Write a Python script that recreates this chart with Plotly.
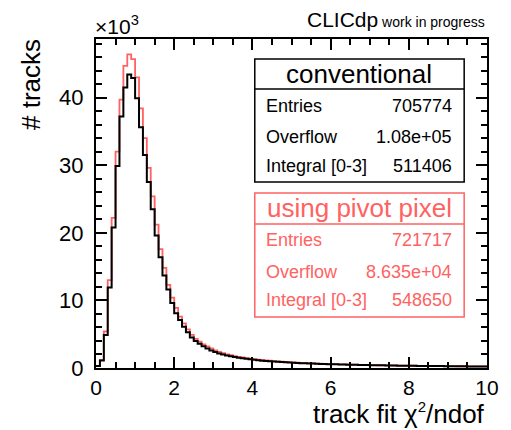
import numpy as np
import plotly.graph_objects as go

# bin edges: 100 bins of width 0.1 on [0, 10]
bin_edges = np.round(np.linspace(0, 10, 101), 2)

# counts per bin, in units of 10^3 tracks
conventional = [
    0.3, 1.1, 4.9, 11.9, 20.8, 29.9, 37.2, 41.5, 43.4, 42.9,
    39.9, 35.6, 31.5, 27.5, 23.5, 19.6, 16.4, 13.7, 11.6, 9.6,
    8.1, 7.1, 6.1, 5.3, 4.5, 4.0, 3.6, 3.2, 2.9, 2.6,
    2.35, 2.15, 2.0, 1.85, 1.72, 1.62, 1.52, 1.43, 1.35, 1.28,
    1.21, 1.15, 1.09, 1.04, 0.99, 0.95, 0.91, 0.88, 0.84, 0.81,
    0.78, 0.75, 0.72, 0.70, 0.67, 0.65, 0.63, 0.61, 0.59, 0.57,
    0.55, 0.54, 0.52, 0.51, 0.49, 0.48, 0.47, 0.45, 0.44, 0.43,
    0.42, 0.41, 0.40, 0.39, 0.38, 0.37, 0.36, 0.35, 0.34, 0.34,
    0.33, 0.32, 0.31, 0.31, 0.30, 0.29, 0.29, 0.28, 0.28, 0.27,
    0.27, 0.26, 0.26, 0.25, 0.25, 0.24, 0.24, 0.23, 0.23, 0.22,
]
pivot = [
    0.3, 1.2, 5.4, 13.0, 22.2, 32.0, 39.7, 44.7, 46.4, 45.7,
    43.0, 38.4, 34.0, 29.6, 25.4, 21.2, 17.6, 14.8, 12.3, 10.4,
    8.9, 7.6, 6.6, 5.7, 4.9, 4.3, 3.9, 3.5, 3.2, 2.9,
    2.6, 2.38, 2.2, 2.03, 1.89, 1.77, 1.66, 1.56, 1.47, 1.39,
    1.31, 1.24, 1.18, 1.12, 1.07, 1.02, 0.98, 0.94, 0.90, 0.86,
    0.83, 0.80, 0.77, 0.74, 0.71, 0.69, 0.66, 0.64, 0.62, 0.60,
    0.58, 0.56, 0.55, 0.53, 0.52, 0.50, 0.49, 0.47, 0.46, 0.45,
    0.44, 0.43, 0.41, 0.40, 0.39, 0.38, 0.37, 0.36, 0.35, 0.35,
    0.34, 0.33, 0.32, 0.32, 0.31, 0.30, 0.30, 0.29, 0.28, 0.28,
    0.27, 0.27, 0.26, 0.26, 0.25, 0.25, 0.24, 0.24, 0.23, 0.23,
]

stat_labels = ["Entries", "Overflow", "Integral [0-3]"]
conventional_stats = ["705774", "1.08e+05", "511406"]
pivot_stats = ["721717", "8.635e+04", "548650"]

BLACK = "#000000"
RED = "#ff6262"
FONT = "Liberation Sans, Arial, sans-serif"

def step_xy(vals):
    x = list(bin_edges)
    y = list(vals) + [vals[-1]]
    return x, y

fig = go.Figure()
for vals, col, w in [(pivot, RED, 1.8), (conventional, BLACK, 2.0)]:
    x, y = step_xy(vals)
    fig.add_trace(go.Scatter(x=x, y=y, mode="lines", line=dict(color=col, width=w, shape="hv"),
                             hoverinfo="skip", showlegend=False))

axis_common = dict(
    showline=True, linecolor="black", linewidth=2, mirror="allticks",
    ticks="inside", ticklen=11, tickwidth=1.5, tickcolor="black",
    showgrid=False, zeroline=False,
)
fig.update_xaxes(range=[0, 10], dtick=2, tick0=0,
                 minor=dict(dtick=0.5, ticks="inside", ticklen=6, tickwidth=1.5, tickcolor="black"),
                 ticklabelstandoff=0, tickfont=dict(family=FONT, size=21, color="black"),
                 **axis_common)
fig.update_yaxes(range=[0, 48.67], dtick=10, tick0=0,
                 minor=dict(dtick=2, ticks="inside", ticklen=6, tickwidth=1.5, tickcolor="black"),
                 ticklabelstandoff=6, tickfont=dict(family=FONT, size=22, color="black"),
                 **axis_common)

# page has an 8px body margin; compensate so the plot frame lands at x 96..490, y 39..368
OFF = 8
W, H = 511 - OFF, 430 - OFF
L, R, T, B = 96 - OFF, 21, 39 - OFF, 62
pw, ph = W - L - R, H - T - B
FX0, FY1 = 96, 368  # page pixel coords of frame left / bottom

def px(xp):
    return (xp - FX0) / pw

def py(yp):
    return (FY1 - yp) / ph

shapes = []
ann = []

def stat_box(top, bottom, div, header, labels, values, color, hdr_y, row_ys):
    shapes.append(dict(type="rect", xref="paper", yref="paper", x0=px(256), x1=px(467),
                       y0=py(bottom), y1=py(top), line=dict(color=color, width=1.5),
                       fillcolor="white", layer="above"))
    shapes.append(dict(type="line", xref="paper", yref="paper", x0=px(256), x1=px(467),
                       y0=py(div), y1=py(div), line=dict(color=color, width=1.5), layer="above"))
    ann.append(dict(text=header, xref="paper", yref="paper", x=px(361.5), y=py(hdr_y),
                    xanchor="center", yanchor="middle", showarrow=False,
                    font=dict(family=FONT, size=26, color=color)))
    for lab, val, ry in zip(labels, values, row_ys):
        ann.append(dict(text=lab, xref="paper", yref="paper", x=px(265), y=py(ry),
                        xanchor="left", yanchor="middle", showarrow=False,
                        font=dict(family=FONT, size=18, color=color)))
        ann.append(dict(text=val, xref="paper", yref="paper", x=px(457), y=py(ry),
                        xanchor="right", yanchor="middle", showarrow=False,
                        font=dict(family=FONT, size=18, color=color)))

stat_box(59, 182, 89, "conventional", stat_labels, conventional_stats, BLACK, 74, [106, 137, 166])
stat_box(193, 317, 224, "using pivot pixel", stat_labels, pivot_stats, RED, 208, [240, 272, 300])

ann.append(dict(text="# tracks", xref="paper", yref="paper", x=px(30), y=py(37),
                xanchor="center", yanchor="top", textangle=-90, showarrow=False,
                font=dict(family=FONT, size=26, color="black")))
ann.append(dict(text="track fit χ<sup><span style='font-size:15px'>2</span></sup>/ndof",
                xref="paper", yref="paper", x=px(490), y=py(431),
                xanchor="right", yanchor="bottom", showarrow=False,
                font=dict(family=FONT, size=26, color="black")))
ann.append(dict(text="×10<sup>3</sup>", xref="paper", yref="paper", x=px(93), y=py(40),
                xanchor="left", yanchor="bottom", showarrow=False,
                font=dict(family=FONT, size=21, color="black")))
ann.append(dict(text="CLICdp<span style='font-size:14px'> work in progress</span>",
                xref="paper", yref="paper", x=px(490), y=py(33),
                xanchor="right", yanchor="bottom", showarrow=False,
                font=dict(family=FONT, size=21, color="black")))

fig.update_layout(
    width=W, height=H, margin=dict(l=L, r=R, t=T, b=B, pad=0),
    paper_bgcolor="white", plot_bgcolor="white",
    shapes=shapes, annotations=ann, showlegend=False,
)
fig.write_html("out.html")
